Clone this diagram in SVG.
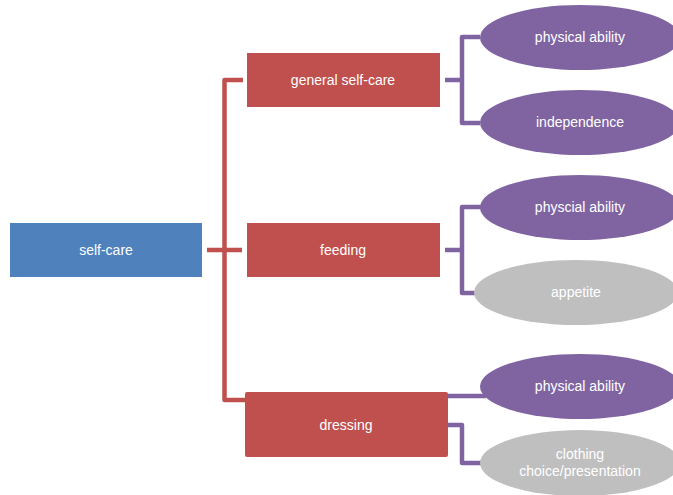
<svg xmlns="http://www.w3.org/2000/svg" width="673" height="495" viewBox="0 0 673 495">
<style>
.red{fill:none;stroke:#C0504D;stroke-width:4.5;stroke-linejoin:round}
.pur{fill:none;stroke:#8064A2;stroke-width:4.5;stroke-linejoin:round}
.box{fill:#C0504D}
.root{fill:#4F81BD}
.ep{fill:#8064A2}
.eg{fill:#BFBFBF}
text{font-family:"Liberation Sans",Arial,sans-serif;font-size:14px;fill:#ffffff;text-anchor:middle}
</style>
<rect width="673" height="495" fill="#ffffff"/>
<g id="connectors">
<path class="red" d="M243,80 H224.5 V400 H246"/>
<path class="red" d="M207,250 H242"/>
<path class="pur" d="M445,80 H462 M480,37 H462 V123 H480"/>
<path class="pur" d="M445,250 H462 V207 H482 M462,250 V293 H478"/>
<path class="pur" d="M448,396 H486"/>
<path class="pur" d="M448,425 H462 V463 H482"/>
</g>
<g id="self-care">
<rect class="root" x="10" y="223" width="192" height="54"/>
<text x="106" y="255">self-care</text>
</g>
<g id="general-self-care">
<rect class="box" x="247" y="53" width="193" height="54"/>
<text x="343" y="85">general self-care</text>
</g>
<g id="feeding">
<rect class="box" x="247" y="223" width="193" height="54"/>
<text x="343" y="255">feeding</text>
</g>
<g id="dressing">
<rect class="box" x="245" y="392" width="203" height="65" rx="2"/>
<text x="346" y="430">dressing</text>
</g>
<g id="physical-ability-1">
<ellipse class="ep" cx="580" cy="37.5" rx="100" ry="32.5"/>
<text x="580" y="42">physical ability</text>
</g>
<g id="independence">
<ellipse class="ep" cx="580" cy="122.5" rx="100" ry="32.5"/>
<text x="580" y="127">independence</text>
</g>
<g id="physcial-ability">
<ellipse class="ep" cx="580" cy="207.5" rx="100" ry="32.5"/>
<text x="580" y="212">physcial ability</text>
</g>
<g id="appetite">
<ellipse class="eg" cx="576" cy="292.5" rx="102" ry="32.5"/>
<text x="576" y="297">appetite</text>
</g>
<g id="physical-ability-3">
<ellipse class="ep" cx="580" cy="386.5" rx="100" ry="32.5"/>
<text x="580" y="391">physical ability</text>
</g>
<g id="clothing">
<ellipse class="eg" cx="580" cy="463" rx="100" ry="33"/>
<text x="580" y="459">clothing</text>
<text x="580" y="476">choice/presentation</text>
</g>
</svg>
